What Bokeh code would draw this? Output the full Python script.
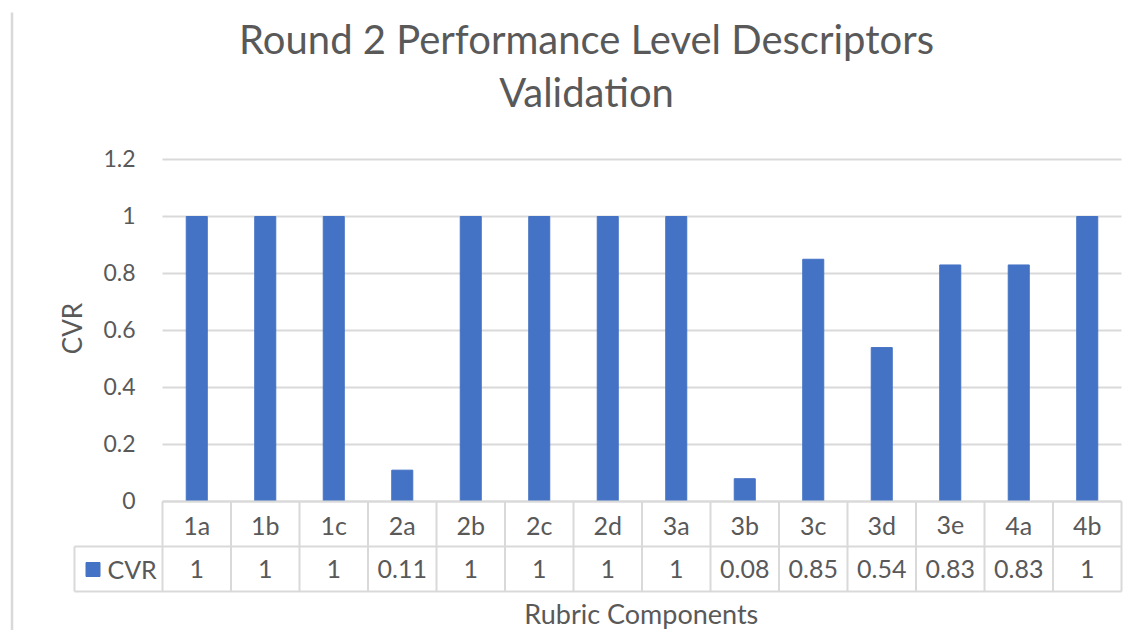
from bokeh.plotting import figure
from bokeh.models import Range1d, ColumnDataSource
from bokeh.core.properties import value
from bokeh.embed import file_html
from bokeh.resources import INLINE

# ---- data ----
categories = ["1a", "1b", "1c", "2a", "2b", "2c", "2d", "3a", "3b", "3c", "3d", "3e", "4a", "4b"]
cvr = [1, 1, 1, 0.11, 1, 1, 1, 1, 0.08, 0.85, 0.54, 0.83, 0.83, 1]
cvr_labels = ["1", "1", "1", "0.11", "1", "1", "1", "1", "0.08", "0.85", "0.54", "0.83", "0.83", "1"]
y_ticks = [0, 0.2, 0.4, 0.6, 0.8, 1.0, 1.2]
y_tick_labels = ["0", "0.2", "0.4", "0.6", "0.8", "1", "1.2"]
series_name = "CVR"
title_lines = ["Round 2 Performance Level Descriptors", "Validation"]
x_title = "Rubric Components"
y_title = "CVR"

FONT = value("Lato")
TXT = "#595959"
GRID = "#D9D9D9"
BAR = "#4472C4"

# layout helpers (pixel -> data units); y: 0 at px 501, 285 px per unit
Y0_PX, Y_UNIT = 501.0, 285.0
K = 0.36  # baseline correction (fraction of font size)


def ty(baseline_px, fs):
    return (Y0_PX - (baseline_px - K * fs)) / Y_UNIT


n = len(categories)
idx = list(range(n))

p = figure(width=1141, height=630,
           x_range=Range1d(-2.865, 13.792), y_range=Range1d(-0.4526, 1.7579),
           x_axis_location=None, y_axis_location=None,
           min_border=0, toolbar_location=None, output_backend="svg",
           outline_line_color=None)
p.grid.visible = False

# chart border line at far left
p.segment(x0=[-2.697], x1=[-2.697], y0=[1.7158], y1=[-0.46], line_color=GRID, line_width=2.5)

# gridlines
p.segment(x0=[-0.5] * len(y_ticks), x1=[n - 0.5] * len(y_ticks), y0=y_ticks, y1=y_ticks,
          line_color=GRID, line_width=2)

# bars
src = ColumnDataSource(dict(x=idx, top=cvr, cat=categories, lab=cvr_labels))
p.vbar(x="x", top="top", bottom=0, width=0.307, source=src, fill_color=BAR, line_color=BAR)

# data table
row_mid = -0.1579
row_bot = -0.3158
leg_left = -1.785
p.segment(x0=[-0.5, leg_left, leg_left], x1=[n - 0.5] * 3, y0=[0, row_mid, row_bot], y1=[0, row_mid, row_bot],
          line_color=GRID, line_width=2)
bounds = [i - 0.5 for i in range(n + 1)]
p.segment(x0=bounds, x1=bounds, y0=[0] * len(bounds), y1=[row_bot] * len(bounds),
          line_color=GRID, line_width=2)
p.segment(x0=[leg_left], x1=[leg_left], y0=[row_mid], y1=[row_bot], line_color=GRID, line_width=2)

TFS = 25
p.text(x="x", y=ty(533, TFS), text="cat", source=src, text_font=FONT, text_font_size=f"{TFS}px",
       text_color=TXT, text_align="center", text_baseline="alphabetic")
p.text(x="x", y=ty(577.3, TFS), text="lab", source=src, text_font=FONT, text_font_size=f"{TFS}px",
       text_color=TXT, text_align="center", text_baseline="alphabetic")

# legend key in table
p.scatter(x=[-1.5146], y=[(Y0_PX - 569) / Y_UNIT], marker="square", size=14, fill_color=BAR, line_color=BAR)
p.text(x=[-1.303], y=[ty(577.3, TFS)], text=[series_name], text_font=FONT, text_font_size=f"{TFS}px",
       text_color=TXT, text_align="left", text_baseline="alphabetic")

# y tick labels
YFS = 23
p.text(x=[-0.894] * len(y_ticks), y=[t + (K * YFS - 7.3) / Y_UNIT for t in y_ticks], text=y_tick_labels,
       text_font=FONT, text_font_size=f"{YFS}px", text_color=TXT, text_align="right",
       text_baseline="alphabetic")

# axis titles
p.text(x=[-1.814], y=[0.607], text=[y_title], angle=1.5708, text_font=FONT, text_font_size="26px",
       text_color=TXT, text_align="center", text_baseline="middle")
p.text(x=[6.49], y=[ty(622.5, 27)], text=[x_title], text_font=FONT, text_font_size="27px",
       text_color=TXT, text_align="center", text_baseline="alphabetic")

# chart title
p.text(x=[5.69, 5.69], y=[ty(52.7, 40), ty(106, 40)], text=title_lines, text_font=FONT,
       text_font_size="40px", text_color=TXT, text_align="center", text_baseline="alphabetic")

open("out.html", "w").write(file_html(p, INLINE))
